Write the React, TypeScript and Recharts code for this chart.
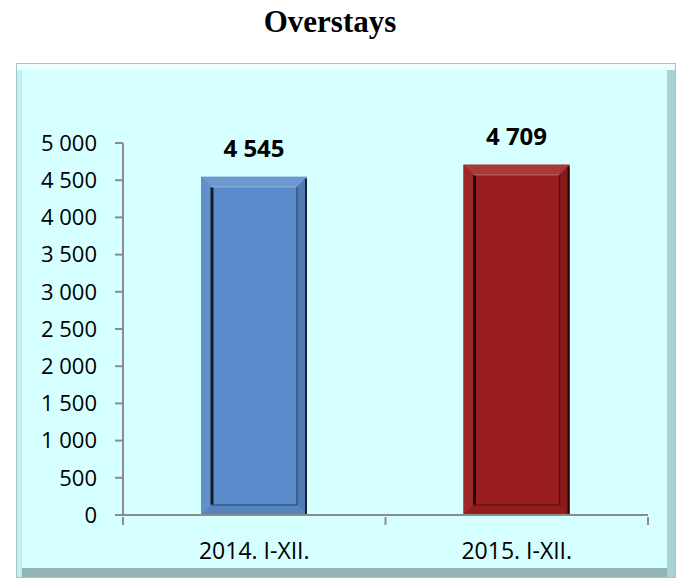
import React from 'react';
import { BarChart, Bar, XAxis, YAxis, Cell, LabelList } from 'recharts';

const categories = ['2014. I-XII.', '2015. I-XII.'];
const overstays = [4545, 4709];
const barColors = ['#5A8BCB', '#9B1E1E'];
const yTicks = [0, 500, 1000, 1500, 2000, 2500, 3000, 3500, 4000, 4500, 5000];

const data = categories.map((name, i) => ({ name, value: overstays[i], color: barColors[i] }));

const fmt = (v: number) => String(v).replace(/\B(?=(\d{3})+(?!\d))/g, ' ');

const shade = (hex: string, k: number) => {
  const n = parseInt(hex.slice(1), 16);
  const ch = [(n >> 16) & 255, (n >> 8) & 255, n & 255].map(c =>
    Math.round(k >= 0 ? c + (255 - c) * k : c * (1 + k))
  );
  return `rgb(${ch.join(',')})`;
};

// bar drawn with a bevelled frame, like the office 3D preset
const BevelBar = (props: any) => {
  const { x, y, width, height, payload } = props;
  if (!height || height <= 0) return null;
  const c = payload.color;
  const b = 10;
  return (
    <g>
      <rect x={x} y={y} width={width} height={height} fill={c} />
      {/* top bevel */}
      <polygon points={`${x},${y} ${x + width},${y} ${x + width - b},${y + b} ${x + b},${y + b}`} fill={shade(c, 0.12)} />
      {/* left bevel */}
      <polygon points={`${x},${y} ${x + b},${y + b} ${x + b},${y + height - b} ${x},${y + height}`} fill={shade(c, 0.04)} />
      {/* right bevel */}
      <polygon points={`${x + width},${y} ${x + width},${y + height} ${x + width - b},${y + height - b} ${x + width - b},${y + b}`} fill={shade(c, -0.12)} />
      {/* bottom bevel */}
      <polygon points={`${x},${y + height} ${x + b},${y + height - b} ${x + width - b},${y + height - b} ${x + width},${y + height}`} fill={shade(c, -0.05)} />
      <line x1={x + width - 1} y1={y + 2} x2={x + width - 1} y2={y + height} stroke={shade(c, -0.75)} strokeWidth={2} />
      <line x1={x + b + 1} y1={y + b} x2={x + b + 1} y2={y + height - b} stroke={shade(c, -0.8)} strokeWidth={3} />
      <line x1={x + b} y1={y + b} x2={x + width - b} y2={y + b} stroke={shade(c, 0.25)} strokeWidth={1.5} />
      <line x1={x + width - b} y1={y + b} x2={x + width - b} y2={y + height - b} stroke={shade(c, -0.4)} strokeWidth={1.5} />
      <line x1={x + b} y1={y + height - b} x2={x + width - b} y2={y + height - b} stroke={shade(c, -0.35)} strokeWidth={1.5} />
    </g>
  );
};

const CategoryTick = (props: any) => {
  const { x, y, payload, index, visibleTicksCount } = props;
  const half = 262.5 / 2;
  return (
    <g>
      <line x1={x - half} y1={y - 6} x2={x - half} y2={y + 2} stroke="#8C8C8C" strokeWidth={2} />
      {index === visibleTicksCount - 1 && (
        <line x1={x + half} y1={y - 6} x2={x + half} y2={y + 2} stroke="#8C8C8C" strokeWidth={2} />
      )}
      <text x={x} y={y + 36} textAnchor="middle" fontSize={23} fill="#000" fontFamily="'Open Sans', sans-serif">
        {payload.value}
      </text>
    </g>
  );
};

export default function App() {
  return (
    <div style={{ position: 'absolute', left: 0, top: 0, width: 676, height: 580, background: '#fff' }}>
      <div
        style={{
          position: 'absolute', left: 0, top: 4, width: 660, textAlign: 'center',
          fontFamily: "'Liberation Serif', 'Times New Roman', serif", fontWeight: 'bold', fontSize: 31,
        }}
      >
        Overstays
      </div>
      <div
        style={{
          position: 'absolute', left: 16, top: 63, width: 660, height: 515,
          background: '#D6FFFF',
          boxShadow: 'inset 0 8px 0 -2px #EFFFFF, inset 5px 0 0 #C4EFEF, inset -8px 0 0 #A7D2D2, inset 0 -9px 0 #93B4B4',
          border: '1px solid #9FC8C8', boxSizing: 'border-box',
        }}
      >
        <div style={{ position: 'absolute', left: -1, top: -1 }}>
          <BarChart
            width={660}
            height={515}
            data={data}
            margin={{ top: 80, right: 28, left: 0, bottom: 0 }}
            barSize={106}
          >
            <YAxis
              domain={[0, 5000]}
              ticks={yTicks}
              width={107}
              tickSize={8}
              tickMargin={18}
              tickFormatter={fmt}
              axisLine={{ stroke: '#8C8C8C', strokeWidth: 2 }}
              tickLine={{ stroke: '#8C8C8C', strokeWidth: 2 }}
              tick={{ fontSize: 22, fill: '#000', fontFamily: "'Open Sans', sans-serif" }}
              interval={0}
            />
            <XAxis
              dataKey="name"
              height={63}
              axisLine={{ stroke: '#8C8C8C', strokeWidth: 2 }}
              tickLine={false}
              tick={<CategoryTick />}
              interval={0}
            />
            <Bar dataKey="value" shape={<BevelBar />} isAnimationActive={false}>
              {data.map((d, i) => (
                <Cell key={i} fill={d.color} />
              ))}
              <LabelList
                dataKey="value"
                position="top"
                offset={20}
                formatter={(v: any) => fmt(v)}
                style={{ fontSize: 24, fontWeight: 'bold', fill: '#000', fontFamily: "'Open Sans', sans-serif" }}
              />
            </Bar>
          </BarChart>
        </div>
      </div>
    </div>
  );
}
